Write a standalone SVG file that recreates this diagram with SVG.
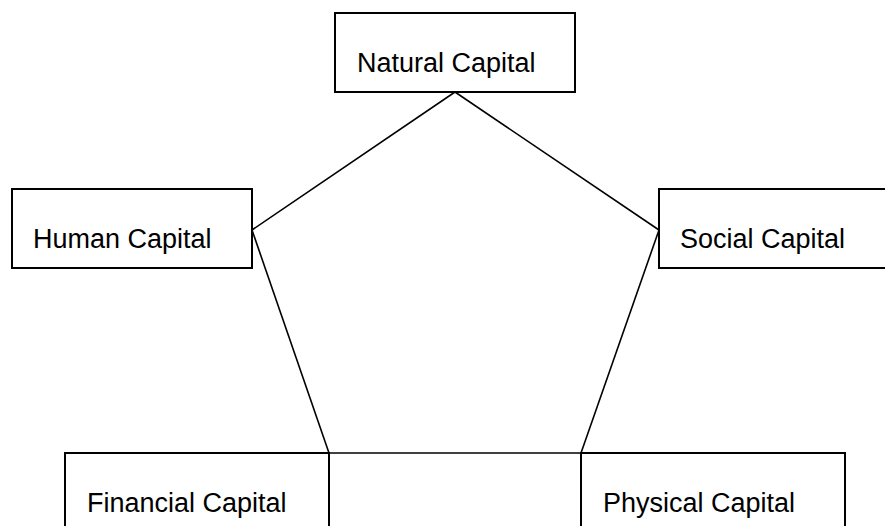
<svg xmlns="http://www.w3.org/2000/svg" width="885" height="526" viewBox="0 0 885 526">
<style>
.box{fill:#fff;stroke:#000;stroke-width:2}
.lbl{font-family:"Liberation Sans",Arial,sans-serif;font-size:27px;fill:#000}
.edge{fill:none;stroke:#000;stroke-width:1.6}
</style>
<rect width="885" height="526" fill="#fff"/>
<g id="connectors">
<line class="edge" x1="455" y1="92" x2="252" y2="230"/>
<line class="edge" x1="455" y1="92" x2="659" y2="230"/>
<line class="edge" x1="252" y1="230" x2="329" y2="453"/>
<line class="edge" x1="659" y1="230" x2="581" y2="453"/>
<line class="edge" x1="329" y1="453" x2="581" y2="453"/>
</g>
<g id="natural">
<rect class="box" x="335" y="13" width="240" height="79"/>
<text class="lbl" x="357" y="72">Natural Capital</text>
</g>
<g id="human">
<rect class="box" x="12" y="189" width="240" height="79"/>
<text class="lbl" x="33" y="248">Human Capital</text>
</g>
<g id="social">
<rect class="box" x="659" y="189" width="240" height="79"/>
<text class="lbl" x="680" y="248">Social Capital</text>
</g>
<g id="financial">
<rect class="box" x="65" y="453" width="264" height="90"/>
<text class="lbl" x="87" y="512">Financial Capital</text>
</g>
<g id="physical">
<rect class="box" x="581" y="453" width="264" height="90"/>
<text class="lbl" x="603" y="512">Physical Capital</text>
</g>
</svg>
